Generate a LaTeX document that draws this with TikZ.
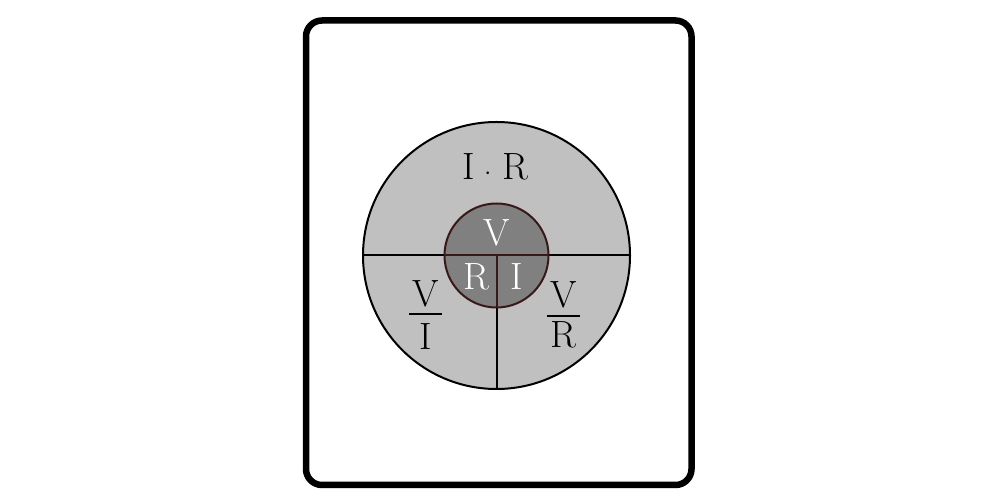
\documentclass[tikz,border=0pt]{standalone}
\usepackage{tikz}

\definecolor{ringgrey}{RGB}{192,192,192}
\definecolor{coregrey}{RGB}{128,128,128}
\definecolor{coreline}{RGB}{58,24,24}

\tikzset{
    lbl/.style={inner sep=0pt, font=\fontsize{38}{40}\selectfont},
    corelbl/.style={lbl, text=white},
    fracbar/.style={line width=2pt},
}

\begin{document}
\begin{tikzpicture}[x=1pt, y=1pt]
    \useasboundingbox (0, 0) rectangle (1000, 500); % page size
    \draw[line width=6.5pt, rounded corners=16pt] (306, 15) rectangle (691.5, 479.5);
    % outer ring
    \coordinate (c) at (496.5, 244.5);
    \draw[line width=2pt, fill=ringgrey] (c) circle (133.5);
    \coordinate (west) at (363, 244.5);
    \coordinate (east) at (630, 244.5);
    \coordinate (south) at (496.5, 111);
    \draw[line width=2pt] (west) -- (east);
    \draw[line width=2pt] (c) -- (south);
    % inner disc
    \draw[line width=2pt, draw=coreline, fill=coregrey] (c) circle (52);
    \draw[line width=2pt, draw=coreline] ([xshift=-52pt]c) -- ([xshift=52pt]c);
    \draw[line width=2pt, draw=coreline] (c) -- ([yshift=-52pt]c);
    \node[corelbl] (v) at (496.5, 267) {V};
    \node[corelbl] (r) at (476.5, 223.5) {R};
    \node[corelbl] (i) at (516.5, 223.5) {I};
    % quadrants
    \node[lbl] (ir) at (495.5, 333) {I\hspace{9pt}$\cdot$\hspace{11pt}R};
    \node[lbl] (vinum) at (425.5, 206.5) {V};
    \node[lbl] (viden) at (425.5, 163.5) {I};
    \draw[fracbar] (409, 185.5) -- (442, 185.5);
    \node[lbl] (vrnum) at (563.5, 205) {V};
    \node[lbl] (vrden) at (563.5, 165) {R};
    \draw[fracbar] (546.5, 183.5) -- (580, 183.5);
\end{tikzpicture}
\end{document}
